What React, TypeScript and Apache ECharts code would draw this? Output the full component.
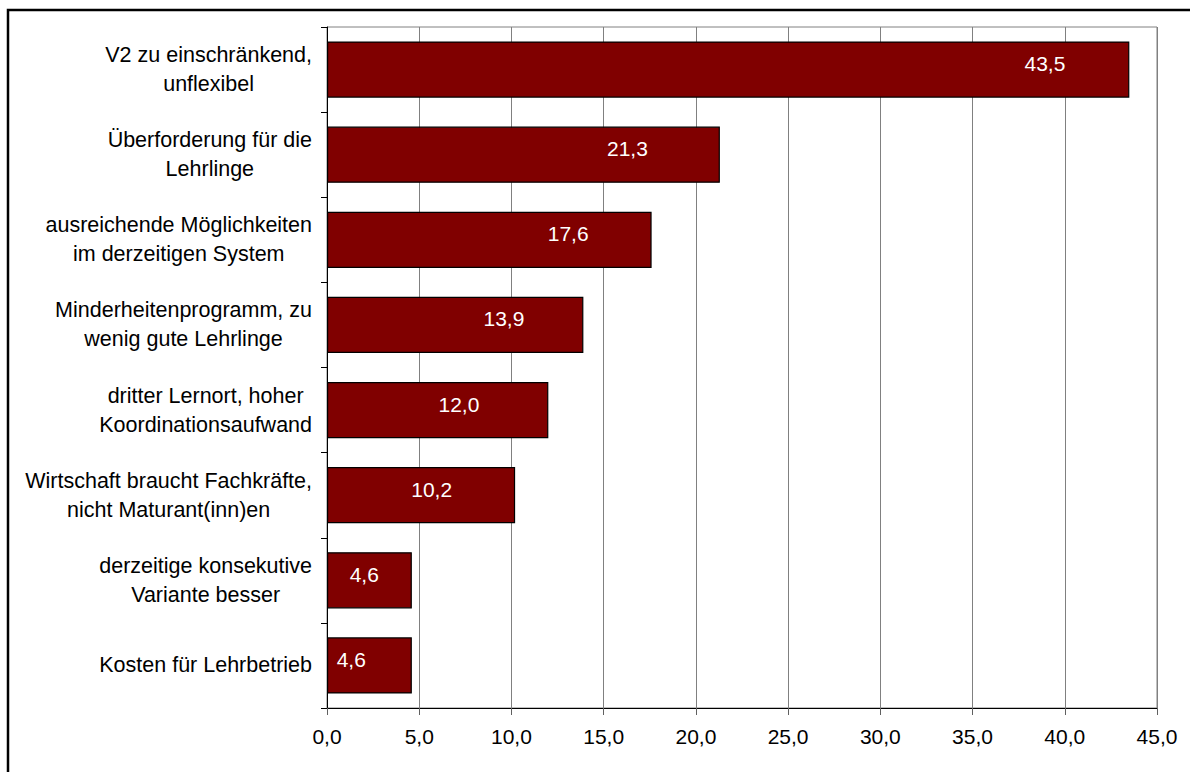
import React, { useEffect, useRef } from "react";
import * as echarts from "echarts";

const categories: string[] = [
  "V2 zu einschränkend,\nunflexibel",
  "Überforderung für die\nLehrlinge",
  "ausreichende Möglichkeiten\nim derzeitigen System",
  "Minderheitenprogramm, zu\nwenig gute Lehrlinge",
  "dritter Lernort, hoher\nKoordinationsaufwand",
  "Wirtschaft braucht Fachkräfte,\nnicht Maturant(inn)en",
  "derzeitige konsekutive\nVariante besser",
  "Kosten für Lehrbetrieb",
];
const values: number[] = [43.5, 21.3, 17.6, 13.9, 12.0, 10.2, 4.6, 4.6];
// label distance from bar end (style only)
const labelDistances: number[] = [64, 72, 63, 59, 69, 63, 33, 46];

const fmt = (v: number) => v.toFixed(1).replace(".", ",");
const FONT = "'Liberation Sans', Arial, sans-serif";

export default function App() {
  const ref = useRef<HTMLDivElement>(null);
  useEffect(() => {
    if (!ref.current) return;
    const chart = echarts.init(ref.current, undefined, { renderer: "svg" });
    chart.setOption({
      animation: false,
      backgroundColor: "#ffffff",
      textStyle: { fontFamily: FONT },
      graphic: [
        {
          type: "rect",
          shape: { x: 8, y: 10, width: 1300, height: 900 },
          style: { fill: "none", stroke: "#000", lineWidth: 2.5 },
          silent: true,
          z: 100,
        },
      ],
      grid: {
        left: 327,
        top: 27,
        right: 33,
        bottom: 64,
        show: true,
        borderColor: "#808080",
        borderWidth: 1,
        backgroundColor: "#ffffff",
      },
      xAxis: {
        type: "value",
        min: 0,
        max: 45,
        interval: 5,
        axisLine: { show: true, lineStyle: { color: "#000", width: 1 } },
        axisTick: { show: true, length: 7, lineStyle: { color: "#606060" } },
        splitLine: { show: true, lineStyle: { color: "#808080", width: 1 } },
        axisLabel: {
          color: "#000",
          fontSize: 21,
          fontFamily: FONT,
          margin: 18,
          formatter: (v: number) => fmt(v),
        },
      },
      yAxis: {
        type: "category",
        inverse: true,
        data: categories,
        axisLine: { show: true, lineStyle: { color: "#000", width: 1 } },
        axisTick: { show: true, length: 6, lineStyle: { color: "#000" } },
        splitLine: { show: false },
        axisLabel: {
          color: "#000",
          margin: 15,
          formatter: (v: string) =>
            v
              .split("\n")
              .map((l) => `{c|${l}}`)
              .join("\n"),
          rich: {
            c: {
              align: "center",
              fontSize: 21.5,
              lineHeight: 29,
              color: "#000",
              fontFamily: FONT,
            },
          },
        },
      },
      series: [
        {
          type: "bar",
          barCategoryGap: "34%",
          data: values.map((v, i) => ({
            value: v,
            label: { distance: labelDistances[i] },
          })),
          itemStyle: { color: "#800000", borderColor: "#000", borderWidth: 1.2 },
          label: {
            show: true,
            position: "insideRight",
            color: "#fff",
            fontSize: 21,
            fontFamily: FONT,
            offset: [0, -6],
            formatter: (p: any) => fmt(p.value),
          },
        },
      ],
    });
    return () => chart.dispose();
  }, []);
  return (
    <div
      ref={ref}
      style={{ position: "fixed", left: 0, top: 0, width: 1190, height: 772 }}
    />
  );
}
